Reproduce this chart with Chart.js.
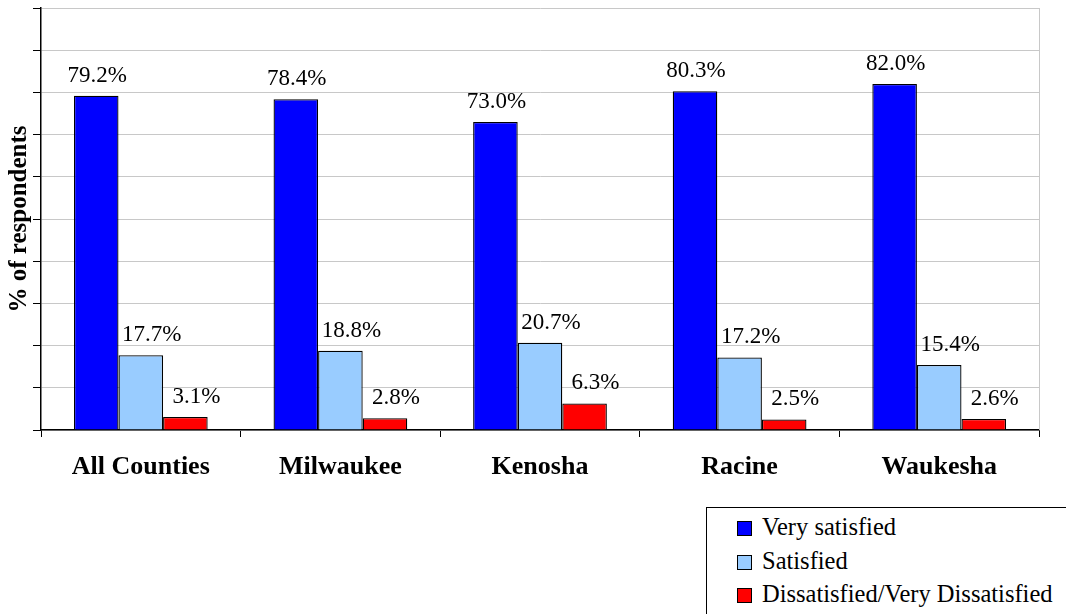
<!DOCTYPE html>
<html>
<head>
<meta charset="utf-8">
<script src="https://cdn.jsdelivr.net/npm/chart.js@4"></script>
<style>
    body { margin: 0; background: #fff; overflow: hidden; font-family: 'Liberation Serif', 'Times New Roman', serif; }
    #wrap { position: absolute; left: 0; top: 0; width: 1066px; height: 500px; }
    #legend {
        position: absolute; left: 706px; top: 507px; width: 380px; height: 120px;
        border: 1px solid #000; box-sizing: border-box;
        font-family: 'Liberation Serif', 'Times New Roman', serif; font-size: 24.5px; color: #000;
    }
    .item { position: absolute; left: 30px; height: 30px; line-height: 30px; white-space: nowrap; }
    .item span {
        display: inline-block; width: 13px; height: 13px; border: 1px solid #000;
        margin-right: 10px; vertical-align: -1px;
    }
</style>
</head>
<body>
<div id="wrap"><canvas id="chart"></canvas></div>
<div id="legend"></div>
<script>
const categories = ['All Counties', 'Milwaukee', 'Kenosha', 'Racine', 'Waukesha'];
const seriesNames = ['Very satisfied', 'Satisfied', 'Dissatisfied/Very Dissatisfied'];
const verySatisfied = [79.2, 78.4, 73.0, 80.3, 82.0];
const satisfied = [17.7, 18.8, 20.7, 17.2, 15.4];
const dissatisfied = [3.1, 2.8, 6.3, 2.5, 2.6];
const yTicks = [0, 10, 20, 30, 40, 50, 60, 70, 80, 90, 100];

const colors = ['#0000ff', '#99ccff', '#ff0000'];
const labelShift = [1, 11, 11];
const serif = "'Liberation Serif', 'Times New Roman', serif";

// value labels drawn above each bar
const valueLabels = {
    id: 'valueLabels',
    afterDatasetsDraw(chart) {
        const ctx = chart.ctx;
        ctx.save();
        ctx.font = '23px ' + serif;
        ctx.fillStyle = '#000';
        ctx.textAlign = 'center';
        ctx.textBaseline = 'alphabetic';
        chart.data.datasets.forEach((ds, i) => {
            chart.getDatasetMeta(i).data.forEach((bar, j) => {
                ctx.fillText(ds.data[j].toFixed(1) + '%', bar.x + labelShift[i], bar.y - 14);
            });
        });
        ctx.restore();
    }
};

// gray frame on the right side of the plot area
const plotFrame = {
    id: 'plotFrame',
    beforeDatasetsDraw(chart) {
        const { ctx, chartArea: a } = chart;
        ctx.save();
        ctx.strokeStyle = '#c8c8c8';
        ctx.lineWidth = 1;
        ctx.beginPath();
        ctx.moveTo(a.right + 0.5, a.top);
        ctx.lineTo(a.right + 0.5, a.bottom);
        ctx.stroke();
        ctx.restore();
    }
};

const datasets = [verySatisfied, satisfied, dissatisfied].map((values, i) => ({
    label: seriesNames[i],
    data: values,
    backgroundColor: colors[i],
    borderColor: '#000',
    borderWidth: 1.3,
    categoryPercentage: 0.67,
    barPercentage: 1.0,
}));

new Chart(document.getElementById('chart'), {
    type: 'bar',
    data: { labels: categories, datasets },
    options: {
        responsive: true,
        maintainAspectRatio: false,
        animation: false,
        layout: { padding: { top: 8, right: 27, left: 0, bottom: 0 } },
        plugins: {
            legend: { display: false },
            tooltip: { enabled: false },
        },
        scales: {
            x: {
                grid: { offset: true, drawOnChartArea: false, drawTicks: true, tickLength: 7, tickColor: '#000' },
                border: { color: '#000', width: 1.5 },
                ticks: { color: '#000', padding: 15, font: { family: serif, size: 26, weight: 'bold' } },
                afterFit(scale) { scale.height = 70; },
            },
            y: {
                min: 0,
                max: 100,
                afterBuildTicks(scale) { scale.ticks = yTicks.map(v => ({ value: v })); },
                grid: { color: '#c8c8c8', tickColor: '#000', tickLength: 8, drawTicks: true },
                border: { color: '#000', width: 1.5 },
                ticks: { display: false },
                title: {
                    display: true,
                    text: '% of respondents',
                    color: '#000',
                    padding: { top: 5, bottom: 0 },
                    font: { family: serif, size: 25, weight: 'bold' },
                },
                afterFit(scale) { scale.width = 41; },
            },
        },
    },
    plugins: [valueLabels, plotFrame],
});

// legend box
const legend = document.getElementById('legend');
const rowTops = [4, 38, 71];
seriesNames.forEach((name, i) => {
    const row = document.createElement('div');
    row.className = 'item';
    row.style.top = rowTops[i] + 'px';
    row.innerHTML = '<span style="background:' + colors[i] + '"></span>' + name;
    legend.appendChild(row);
});
</script>
</body>
</html>
